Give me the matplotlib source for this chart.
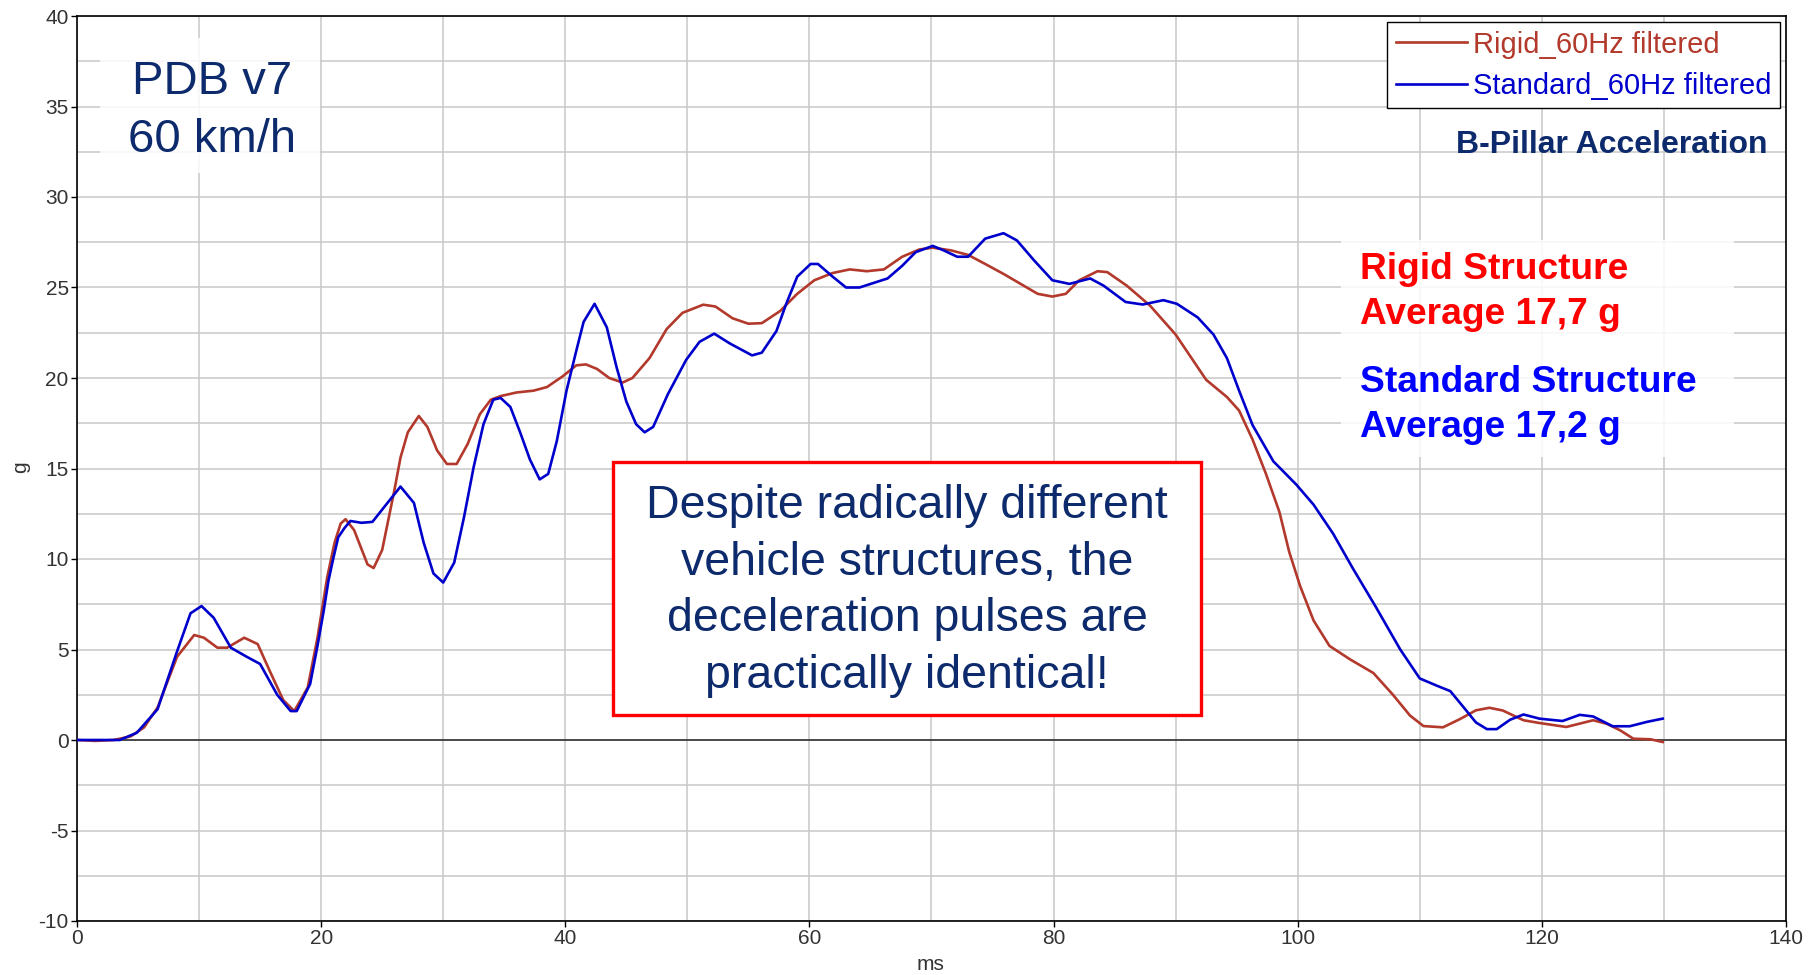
import numpy as np
import matplotlib
matplotlib.use("Agg")
import matplotlib.pyplot as plt
from matplotlib.ticker import MultipleLocator
from matplotlib.patches import Rectangle

plt.rcParams["font.family"] = ["Liberation Sans", "DejaVu Sans"]
plt.rcParams["axes.unicode_minus"] = False

# B-pillar acceleration (g) against time (ms)
rigid_ms = [0, 1.5, 3.0, 4.4, 5.5, 6.6, 8.2, 9.6, 10.4, 11.5, 12.3, 13.7, 14.8,
            15.8, 16.9, 17.8, 18.9, 19.7, 20.5, 21.1, 21.6, 22.0, 22.7, 23.8,
            24.3, 25.0, 26.0, 26.5, 27.1, 28.0, 28.7, 29.5, 30.3, 31.1, 32.0,
            33.0, 33.9, 34.7, 36.0, 37.4, 38.5, 39.8, 40.9, 41.7, 42.6, 43.6,
            44.7, 45.5, 46.9, 48.3, 49.6, 51.3, 52.3, 53.7, 55.0, 56.1, 57.6,
            59.0, 60.4, 61.9, 63.3, 64.7, 66.1, 67.6, 69.0, 70.1, 71.6, 73.0,
            74.4, 75.9, 77.3, 78.7, 79.9, 81.0, 82.1, 83.6, 84.4, 86.0, 87.9,
            90.0, 91.1, 92.5, 94.2, 95.2, 96.3, 97.4, 98.5, 99.3, 100.2, 101.3,
            102.6, 104.3, 106.2, 107.8, 109.2, 110.3, 111.9, 113.3, 114.6,
            115.7, 116.8, 118.5, 119.8, 122.0, 124.2, 125.3, 126.4, 127.5,
            128.9, 129.9]
rigid_g = [0, -0.05, 0.0, 0.2, 0.7, 1.8, 4.6, 5.8, 5.65, 5.1, 5.1, 5.65, 5.3,
           3.8, 2.2, 1.6, 2.9, 5.65, 9.0, 10.9, 11.96, 12.2, 11.6, 9.7,
           9.5, 10.5, 13.8, 15.6, 17.0, 17.9, 17.3, 16.0, 15.25, 15.25, 16.35,
           18.0, 18.8, 19.0, 19.2, 19.3, 19.5, 20.1, 20.7, 20.75, 20.5, 20.0,
           19.75, 20.0, 21.1, 22.7, 23.6, 24.05, 23.95, 23.3, 23.0, 23.03, 23.7,
           24.65, 25.4, 25.8, 26.0, 25.9, 26.0, 26.7, 27.1, 27.2, 27.05, 26.8,
           26.3, 25.75, 25.2, 24.65, 24.5, 24.65, 25.4, 25.9, 25.85, 25.1, 24.0,
           22.4, 21.3, 19.9, 18.95, 18.2, 16.6, 14.7, 12.6, 10.4, 8.5, 6.6,
           5.2, 4.45, 3.7, 2.5, 1.35, 0.77, 0.7, 1.16, 1.64,
           1.78, 1.63, 1.09, 0.94, 0.72, 1.09, 0.9, 0.54, 0.07,
           0.04, -0.11]

standard_ms = [0, 3.5, 4.9, 6.6, 8.2, 9.3, 10.2, 11.2, 12.6, 13.9, 15.0, 16.4,
               17.5, 18.0, 19.1, 19.7, 20.2, 20.6, 21.0, 21.4, 21.9, 22.4,
               23.3, 24.2, 25.2, 26.5, 27.6, 28.4, 29.2, 30.0, 30.9, 31.7,
               32.5, 33.3, 34.1, 34.7, 35.5, 36.3, 37.1, 37.9, 38.6, 39.3,
               40.1, 40.9, 41.5, 42.4, 43.4, 44.2, 45.0, 45.8, 46.5, 47.2,
               48.4, 49.9, 51.0, 52.2, 53.5, 55.3, 56.1, 57.3, 58.1, 59.0,
               60.1, 60.7, 61.9, 63.0, 64.1, 66.4, 67.6, 68.7, 70.1, 71.0,
               72.1, 73.0, 74.4, 75.9, 77.0, 78.4, 79.9, 81.3, 83.0, 84.1,
               85.9, 87.3, 89.0, 90.1, 91.8, 93.1, 94.2, 95.2, 96.3, 98.0,
               99.9, 101.3, 102.9, 104.5, 106.4, 108.4, 110.0, 111.4, 112.5,
               113.6, 114.6, 115.5, 116.3, 117.4, 118.5, 119.8, 121.7, 123.1,
               124.2, 125.8, 127.2, 128.6, 129.9]
standard_g = [0, 0.0, 0.4, 1.7, 4.9, 7.0, 7.4, 6.75, 5.1, 4.6, 4.2, 2.5,
              1.6, 1.6, 3.1, 5.2, 7.1, 8.8, 10.05, 11.2, 11.7, 12.1,
              12.0, 12.05, 12.9, 14.0, 13.1, 10.9, 9.2, 8.7, 9.8, 12.3,
              15.1, 17.45, 18.8, 18.9, 18.4, 17.0, 15.5, 14.4, 14.7, 16.5,
              19.3, 21.5, 23.1, 24.1, 22.8, 20.6, 18.7, 17.45, 17.0, 17.3,
              19.1, 21.0, 22.0, 22.45, 21.9, 21.25, 21.4, 22.6, 24.1, 25.6,
              26.3, 26.3, 25.6, 25.0, 25.0, 25.5, 26.2, 26.95, 27.3, 27.05,
              26.7, 26.7, 27.7, 28.0, 27.6, 26.5, 25.4, 25.2, 25.5, 25.1,
              24.2, 24.06, 24.3, 24.1, 23.35, 22.4, 21.1, 19.3, 17.4, 15.4,
              14.1, 13.0, 11.4, 9.5, 7.35, 5.0, 3.4, 3.0, 2.7,
              1.8, 0.97, 0.6, 0.6, 1.12, 1.41, 1.18, 1.05, 1.39,
              1.3, 0.76, 0.76, 1.0, 1.18]

series_labels = ["Rigid_60Hz filtered", "Standard_60Hz filtered"]
x_ticks = np.arange(0, 141, 20)
y_ticks = np.arange(-10, 41, 5)

RED_LINE = "#b2392b"
BLUE_LINE = "#0000cc"
NAVY = "#0c2a6c"

W, H = 1816, 975
fig = plt.figure(figsize=(W / 100, H / 100), dpi=100)
ax = fig.add_axes([77 / W, 1 - 921 / H, (1786 - 77) / W, (921 - 16) / H])


def fx(px):
    return px / W


def fy(py):
    return 1 - py / H


ax.set_xlim(0, 140)
ax.set_ylim(-10, 40)
ax.set_xticks(x_ticks)
ax.set_yticks(y_ticks)
ax.xaxis.set_minor_locator(MultipleLocator(10))
ax.yaxis.set_minor_locator(MultipleLocator(2.5))
ax.grid(which="both", color="#c8c8c8", linewidth=1.1, zorder=0)
ax.set_axisbelow(True)
ax.tick_params(which="minor", length=0)
ax.tick_params(which="major", length=4, width=1, pad=2, labelsize=15,
               labelcolor="#333333")
for s in ax.spines.values():
    s.set_linewidth(1.2)
ax.axhline(0, color="#333333", linewidth=1.2, zorder=1)

ax.plot(rigid_ms, rigid_g, color=RED_LINE, linewidth=1.9, label=series_labels[0],
        solid_joinstyle="round", zorder=3)
ax.plot(standard_ms, standard_g, color=BLUE_LINE, linewidth=1.9, label=series_labels[1],
        solid_joinstyle="round", zorder=4)

leg = ax.legend(loc="upper right", fontsize=21, handlelength=2.45, handletextpad=0.2,
                borderpad=0.3, labelspacing=0.45, borderaxespad=0.2,
                fancybox=False, framealpha=1, edgecolor="black")
leg.get_frame().set_linewidth(1.0)
leg.set_zorder(10)
for t, c in zip(leg.get_texts(), [RED_LINE, BLUE_LINE]):
    t.set_color(c)

fig.text(fx(21), fy(467), "g", rotation=90, ha="center", va="center",
         fontsize=15, color="#333333")
fig.text(fx(930), fy(965), "ms", ha="center", va="center", fontsize=15,
         color="#333333")

# faint boxes behind annotation text
fig.patches.append(Rectangle((fx(100), fy(173)), fx(220), 135 / H,
                             transform=fig.transFigure, facecolor="white",
                             alpha=0.85, edgecolor="none", zorder=5))
fig.patches.append(Rectangle((fx(1341), fy(457)), fx(393), 217 / H,
                             transform=fig.transFigure, facecolor="white",
                             alpha=0.85, edgecolor="none", zorder=5))

fig.text(fx(212), fy(111), "PDB v7\n60 km/h", ha="center", va="center",
         fontsize=34, color=NAVY, linespacing=1.42, zorder=6)
fig.text(fx(1767), fy(145), "B-Pillar Acceleration", ha="right", va="center",
         fontsize=23, fontweight="bold", color=NAVY, zorder=6)

fig.text(fx(1360), fy(292), "Rigid Structure\nAverage 17,7 g", ha="left",
         va="center", fontsize=26.7, fontweight="bold", color="#ff0000",
         linespacing=1.36, zorder=6)
fig.text(fx(1360), fy(405), "Standard Structure\nAverage 17,2 g", ha="left",
         va="center", fontsize=26.7, fontweight="bold", color="#0000ff",
         linespacing=1.36, zorder=6)

# red-framed message box
fig.patches.append(Rectangle((fx(613), fy(715)), fx(1201 - 613), 253 / H,
                             transform=fig.transFigure, facecolor="white",
                             edgecolor="#ff0000", linewidth=2.4, zorder=5))
fig.text(fx(907), fy(591),
         "Despite radically different\nvehicle structures, the\n"
         "deceleration pulses are\npractically identical!",
         ha="center", va="center", fontsize=33.5, color=NAVY,
         linespacing=1.37, zorder=6)

fig.savefig("out.png", dpi=100)
